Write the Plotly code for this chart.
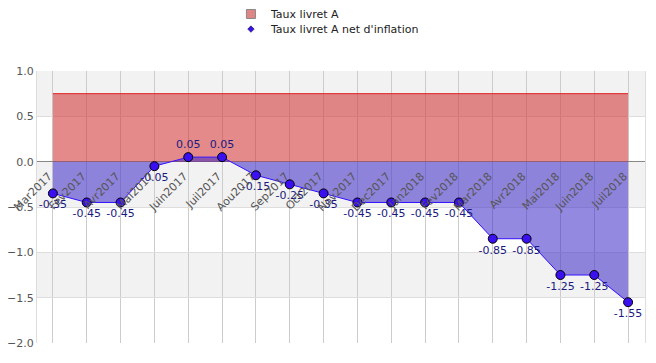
import plotly.graph_objects as go

months = ["Mar2017", "Fev2017", "Avr2017", "Mai2017", "Juin2017", "Juil2017", "Aou2017",
          "Sep2017", "Oct2017", "Nov2017", "Dec2017", "Jan2018", "Fev2018", "Mar2018",
          "Avr2018", "Mai2018", "Juin2018", "Juil2018"]
taux_livret_a = [0.75] * 18
taux_net = [-0.35, -0.45, -0.45, -0.05, 0.05, 0.05, -0.15, -0.25, -0.35, -0.45,
            -0.45, -0.45, -0.45, -0.85, -0.85, -1.25, -1.25, -1.55]
y_ticks = [-2.0, -1.5, -1.0, -0.5, 0.0, 0.5, 1.0]
gray_bands = [(0.5, 1.0), (-0.5, 0.0), (-1.5, -1.0)]

FONT = "DejaVu Sans"
fig = go.Figure()

fig.add_trace(go.Scatter(
    x=months, y=taux_livret_a, mode="lines", fill="tozeroy",
    line=dict(color="#dd2222", width=1), fillcolor="rgba(210,60,60,0.6)",
    showlegend=False, hoverinfo="skip"))

fig.add_trace(go.Scatter(
    x=months, y=taux_net, mode="lines+markers+text", fill="tozeroy",
    line=dict(color="#3311ff", width=1), fillcolor="rgba(60,40,200,0.55)",
    marker=dict(symbol="circle", size=9, color="#3a10f0", line=dict(color="#000000", width=1)),
    text=[f"{v:.2f}" for v in taux_net],
    textposition=["top center" if v > 0 else "bottom center" for v in taux_net],
    textfont=dict(family=FONT, size=11, color="#1a1a80"),
    showlegend=False, hoverinfo="skip"))

# legend-only entries
fig.add_trace(go.Scatter(
    x=[None], y=[None], mode="markers", name="Taux livret A", legend="legend",
    marker=dict(symbol="square", size=9, color="#e08585", line=dict(color="#888888", width=1))))
fig.add_trace(go.Scatter(
    x=[None], y=[None], mode="markers", name="Taux livret A net d'inflation", legend="legend2",
    marker=dict(symbol="diamond", size=5, color="#3a10f0", line=dict(color="#000000", width=0.5))))

for y0, y1 in gray_bands:
    fig.add_shape(type="rect", xref="paper", yref="y", x0=0, x1=1, y0=y0, y1=y1,
                  fillcolor="#f2f2f2", line=dict(width=0), layer="below")

legend_common = dict(x=0.319, xanchor="left", yanchor="middle", bgcolor="rgba(0,0,0,0)",
                     font=dict(family=FONT, size=11, color="#222222"))

fig.update_layout(
    width=656, height=363,
    margin=dict(l=29, r=19, t=63, b=28, autoexpand=False),
    paper_bgcolor="white", plot_bgcolor="white",
    font=dict(family=FONT, size=11, color="#333333"),
    legend=dict(y=1.2096, **legend_common),
    legend2=dict(y=1.154, **legend_common),
    xaxis=dict(type="category", range=[-0.47, 17.5], anchor="free", position=2/3,
               tickangle=-45, showgrid=True, gridcolor="#cccccc", gridwidth=1,
               showline=False, ticks="", automargin=False,
               ticklabelstandoff=5, ticklabelshift=-4,
               tickfont=dict(family=FONT, size=11, color="#555555")),
    yaxis=dict(range=[-2.0, 1.0], tickvals=y_ticks, tickformat=".1f",
               showgrid=True, gridcolor="#dddddd", gridwidth=1,
               zeroline=True, zerolinecolor="#888888", zerolinewidth=1,
               showline=True, mirror=True, linecolor="#dddddd", linewidth=1,
               automargin=False, tickfont=dict(family=FONT, size=11, color="#555555")),
)

fig.write_html("out.html")
